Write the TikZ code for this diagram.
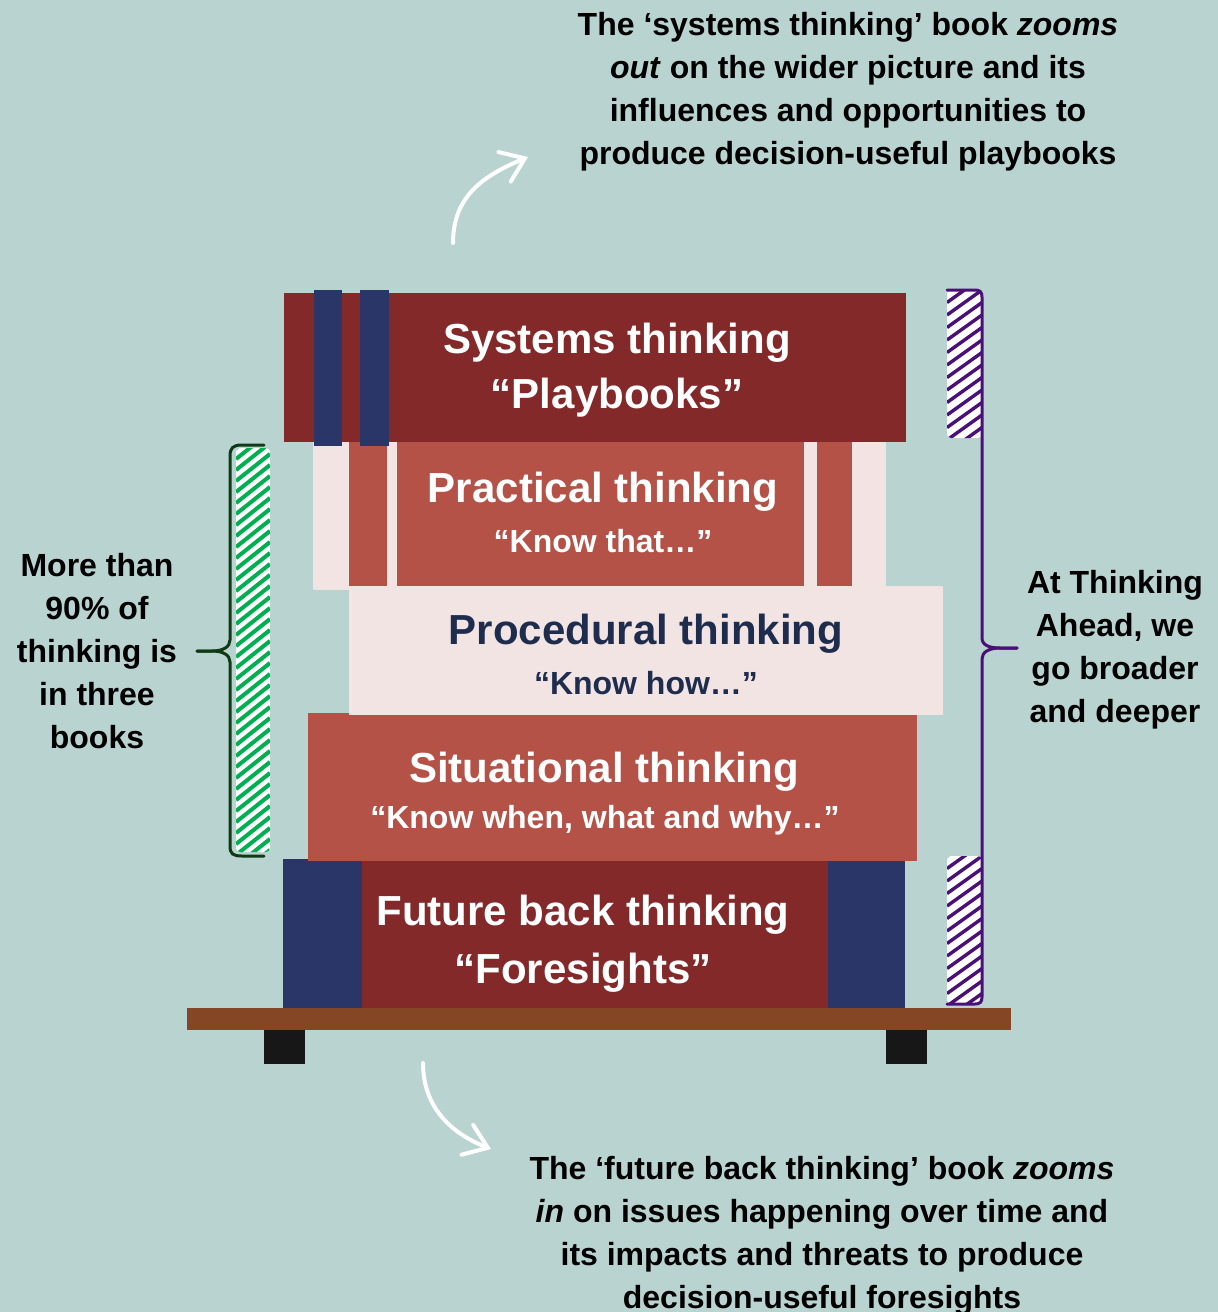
\documentclass[tikz,border=0pt]{standalone}
\usepackage{fontspec}
\setmainfont{Liberation Sans}
\usetikzlibrary{arrows.meta}

\definecolor{wallbg}{RGB}{185,211,208}
\definecolor{darkred}{RGB}{132,41,42}
\definecolor{bookred}{RGB}{180,82,72}
\definecolor{bookpink}{RGB}{243,228,228}
\definecolor{booknavy}{RGB}{43,54,104}
\definecolor{procnavy}{RGB}{30,45,78}
\definecolor{shelfbrown}{RGB}{133,70,37}
\definecolor{legblack}{RGB}{23,23,23}
\definecolor{stripegreen}{RGB}{0,176,80}
\definecolor{bracegreen}{RGB}{15,58,20}
\definecolor{stripepurple}{RGB}{75,15,120}

\tikzset{
  booktitle/.style = {anchor = base, inner sep = 0, text = white, font = \bfseries\fontsize{21}{25}\selectfont},
  booksub/.style = {anchor = base, inner sep = 0, text = white, font = \bfseries\fontsize{16}{19}\selectfont},
  note/.style = {align = center, inner sep = 0, font = \bfseries\fontsize{16}{21.5}\selectfont},
  swoosh/.style = {draw = white, line width = 2pt, line cap = round, -{Straight Barb[length = 11pt, width = 16pt, line cap = round]}},
  bracket/.style = {line width = 1.5pt, line cap = round},
  greenstripe/.style = {draw = stripegreen, line width = 2pt},
  purplestripe/.style = {draw = stripepurple, line width = 1.7pt}
}

\begin{document}
\begin{tikzpicture}[x = 0.5pt, y = -0.5pt]
\fill[wallbg] (0,0) rectangle (1218,1312);
\useasboundingbox (0,0) rectangle (1218,1312);

% shelf and legs
\fill[legblack] (264,1028) rectangle (305,1064);
\fill[legblack] (886,1028) rectangle (927,1064);
\fill[shelfbrown] (187,1008) rectangle (1011,1030);

% future back book
\fill[darkred] (283,859) rectangle (905,1008);
\fill[booknavy] (283,859) rectangle (362,1008);
\fill[booknavy] (828,859) rectangle (905,1008);

% situational book
\fill[bookred] (308,713) rectangle (917,861);

% procedural book
\fill[bookpink] (349,586) rectangle (943,715);

% practical book
\fill[bookpink] (313,442) rectangle (886,590);
\fill[bookred] (349,442) rectangle (387,586);
\fill[bookred] (397,442) rectangle (804,586);
\fill[bookred] (817,442) rectangle (852,586);

% systems book
\fill[darkred] (284,293) rectangle (906,442);
\fill[booknavy] (314,290) rectangle (342,446);
\fill[booknavy] (360,290) rectangle (389,446);

% book labels
\node[booktitle] (systems) at (617,353) {Systems thinking};
\node[booktitle] (playbooks) at (617,408) {“Playbooks”};
\node[booktitle] (practical) at (603,502) {Practical thinking};
\node[booksub] (knowthat) at (603,552) {“Know that…”};
\node[booktitle, text = procnavy] (procedural) at (646,644) {Procedural thinking};
\node[booksub, text = procnavy] (knowhow) at (646,694) {“Know how…”};
\node[booktitle] (situational) at (604,782) {Situational thinking};
\node[booksub] (knowwhen) at (605,828) {“Know when, what and why…”};
\node[booktitle] (futureback) at (583,925) {Future back thinking};
\node[booktitle] (foresights) at (583,983) {“Foresights”};

% hatched bars
\begin{scope}
\clip[rounded corners = 2pt] (236,448) rectangle (270,852);
\fill[white] (236,448) rectangle (270,852);
\foreach \s in {0,...,40}
  \draw[greenstripe] (236,{448+11*\s}) -- ++(34,-27);
\end{scope}
\foreach \top/\bot in {290/438, 856/1004} {
  \begin{scope}
  \clip[rounded corners = 2pt] (947,\top) rectangle (982,\bot);
  \fill[white] (947,\top) rectangle (982,\bot);
  \foreach \s in {0,...,14}
    \draw[purplestripe] (947,{\top+12.5*\s}) -- ++(35,-25);
  \end{scope}
}

% braces
\coordinate (lefthigh) at (264,445);
\coordinate (leftnose) at (197,651);
\coordinate (leftlow) at (264,856);
\coordinate (righthigh) at (947,290);
\coordinate (rightnose) at (1017,648);
\coordinate (rightlow) at (947,1004);
\draw[bracket, bracegreen] (lefthigh) -- (242,445) .. controls (233,445) and (230,448) .. (230,456)
  -- (230,640) .. controls (230,647) and (223,651) .. (212,651) -- (leftnose);
\draw[bracket, bracegreen] (leftnose) -- (212,651) .. controls (223,651) and (230,655) .. (230,662)
  -- (230,846) .. controls (230,854) and (233,856) .. (242,856) -- (leftlow);
\draw[bracket, stripepurple] (righthigh) -- (975,290) .. controls (980,290) and (982,292) .. (982,297)
  -- (982,638) .. controls (982,645) and (989,648) .. (1000,648) -- (rightnose);
\draw[bracket, stripepurple] (rightnose) -- (1000,648) .. controls (989,648) and (982,652) .. (982,659)
  -- (982,997) .. controls (982,1002) and (980,1004) .. (975,1004) -- (rightlow);

% side notes
\node[note] (ninety) at (97,651) {More than\\90\% of\\thinking is\\in three\\books};
\node[note] (broader) at (1115,650) {At Thinking\\Ahead, we\\go broader\\and deeper};
\node[note] (zoomout) at (848,92) {The ‘systems thinking’ book \textit{zooms}\\\textit{out} on the wider picture and its\\influences and opportunities to\\produce decision-useful playbooks};
\node[note] (zoomin) at (822,1236) {The ‘future back thinking’ book \textit{zooms}\\\textit{in} on issues happening over time and\\its impacts and threats to produce\\decision-useful foresights};

% arrows
\coordinate (upfrom) at (453,243);
\coordinate (upto) at (528,157);
\coordinate (downfrom) at (423,1063);
\coordinate (downto) at (491,1149);
\draw[swoosh] (upfrom) .. controls (453,195) and (485,175) .. (upto);
\draw[swoosh] (downfrom) .. controls (423,1110) and (455,1135) .. (downto);
\end{tikzpicture}
\end{document}
